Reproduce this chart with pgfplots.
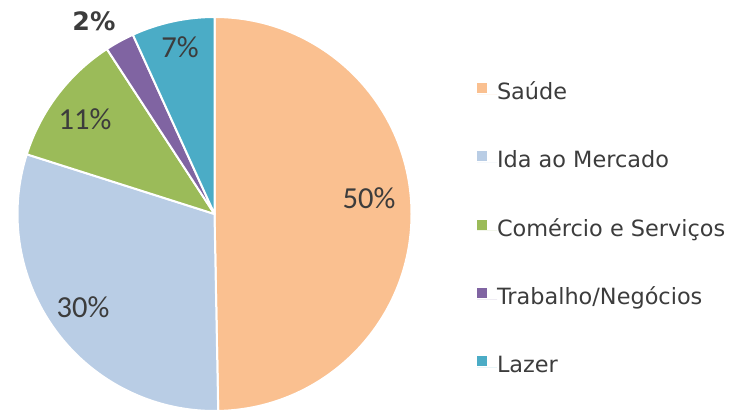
\documentclass[border=0pt]{standalone}
\usepackage{fontspec}
\setmainfont{DejaVu Sans}
\newfontfamily\labfont{Carlito}
\usepackage{pgfplots}
\pgfplotsset{compat=1.18}
\usepackage{pgfplotstable}

\definecolor{c0}{HTML}{FAC090}
\definecolor{c1}{HTML}{B9CDE5}
\definecolor{c2}{HTML}{9BBB59}
\definecolor{c3}{HTML}{8064A2}
\definecolor{c4}{HTML}{4BACC6}
\definecolor{txt}{HTML}{3C3C3C}

% share (%), label position (px from left, px from bottom)
\pgfplotstableread{
value lx ly
49.7 369 213
30.2 83 104
10.9 85 292
2.4 94 390
6.8 180 364
}\piedata

\tikzset{
  lab/.style={font=\labfont\fontsize{22.9}{26}\selectfont, text=txt, inner sep=0pt},
  labb/.style={font=\bfseries\fontsize{19}{22}\selectfont, text=txt, inner sep=0pt},
}

\begin{document}
\begin{tikzpicture}
\begin{axis}[
  x=0.75pt, y=0.75pt,
  xmin=0, xmax=729, ymin=0, ymax=411,
  hide axis, clip=false,
  legend image code/.code={\fill[#1] (0pt,0.75pt) rectangle (7.5pt,8.25pt); \path (0pt,0pt) -- (15pt,0pt);},
  legend cell align=left,
  legend style={at={(axis cs:477,328)}, anchor=north west, draw=none, fill=none,
    inner sep=0pt, outer sep=0pt, row sep=35pt,
    font=\fontsize{16.8}{20}\selectfont, text=txt,
    nodes={inner sep=0pt, text height=12pt, text depth=4pt}},
]
\coordinate (BL) at (axis cs:0,0);
\coordinate (TR) at (axis cs:729,411);
\def\angA{90}
\pgfplotsforeachungrouped \i in {0,...,4}{%
  \pgfplotstablegetelem{\i}{value}\of\piedata
  \let\v\pgfplotsretval
  \pgfmathsetmacro\angB{\angA-3.6*\v}
  \edef\doit{\noexpand\fill[c\i,draw=white,line width=1.5pt,line join=round]
    (axis cs:214.5,197) -- ++(\angA:147.75pt)
    arc[start angle=\angA,end angle=\angB,radius=147.75pt] -- cycle;}
  \doit
  \let\angA\angB
}
\pgfplotsforeachungrouped \i in {0,...,4}{%
  \pgfplotstablegetelem{\i}{value}\of\piedata
  \let\v\pgfplotsretval
  \pgfplotstablegetelem{\i}{lx}\of\piedata
  \let\lx\pgfplotsretval
  \pgfplotstablegetelem{\i}{ly}\of\piedata
  \let\ly\pgfplotsretval
  \pgfmathtruncatemacro\pct{round(\v)}
  \ifnum\i=3 \def\st{labb}\else\def\st{lab}\fi
  \edef\doit{\noexpand\node[\st] at (axis cs:\lx,\ly) {\pct\noexpand\%};}
  \doit
}
\addlegendimage{fill=c0, draw=none}
\addlegendentry{Saúde}
\addlegendimage{fill=c1, draw=none}
\addlegendentry{Ida ao Mercado}
\addlegendimage{fill=c2, draw=none}
\addlegendentry{Comércio e Serviços}
\addlegendimage{fill=c3, draw=none}
\addlegendentry{Trabalho/Negócios}
\addlegendimage{fill=c4, draw=none}
\addlegendentry{Lazer}
\end{axis}
\pgfresetboundingbox
\useasboundingbox (BL) rectangle (TR);
\end{tikzpicture}
\end{document}
